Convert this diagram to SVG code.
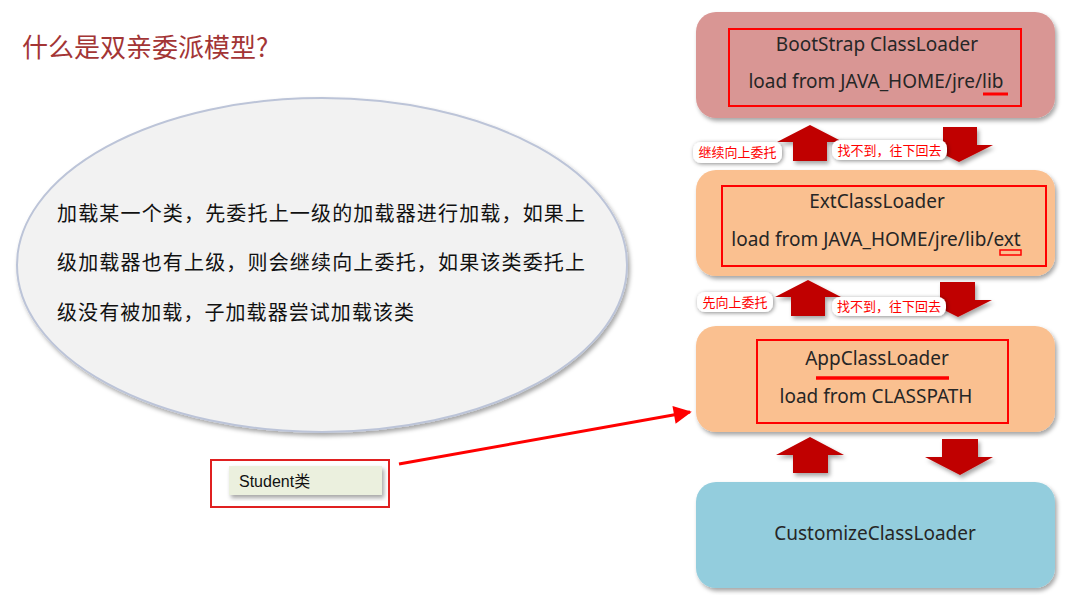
<svg xmlns="http://www.w3.org/2000/svg" width="1076" height="595" viewBox="0 0 1076 595">
<defs>
<filter id="sh" x="-10%" y="-10%" width="125%" height="130%"><feDropShadow dx="2" dy="3" stdDeviation="2" flood-color="#000" flood-opacity="0.35"/></filter>
<filter id="glow" x="-20%" y="-40%" width="140%" height="180%"><feDropShadow dx="1" dy="1" stdDeviation="2" flood-color="#000" flood-opacity="0.45"/></filter>
<marker id="ah" viewBox="0 0 10 10" refX="9" refY="5" markerWidth="8" markerHeight="6" orient="auto" markerUnits="strokeWidth"><path d="M0,0 L10,5 L0,10 z" fill="#f00"/></marker>
</defs>
<style>
.box{filter:url(#sh)}
.inner{fill:none;stroke:#f00;stroke-width:2}
.t{font-family:"Noto Sans","Open Sans",sans-serif;font-size:19px;fill:#262626;text-anchor:middle}
.cn{font-family:"Noto Sans CJK SC",sans-serif;font-size:20px;fill:#111}
.lbl{fill:#fff;filter:url(#glow)}
.lt{font-family:"Noto Sans CJK SC",sans-serif;font-size:13px;fill:#f00;text-anchor:middle}
.arr{fill:#c00000;filter:url(#sh)}
</style>
<rect width="1076" height="595" fill="#fff"/>
<text id="title" x="22" y="57" font-family="Noto Sans CJK SC,sans-serif" font-size="26" fill="#a33535">什么是双亲委派模型?</text>

<g id="ellipse">
<ellipse cx="322" cy="265" rx="305" ry="167" fill="#f2f2f2" stroke="#bcc4d8" stroke-width="2" filter="url(#sh)"/>
<text class="cn" x="57" y="221" textLength="528" lengthAdjust="spacing">加载某一个类，先委托上一级的加载器进行加载，如果上</text>
<text class="cn" x="57" y="270" textLength="528" lengthAdjust="spacing">级加载器也有上级，则会继续向上委托，如果该类委托上</text>
<text class="cn" x="57" y="320" textLength="357" lengthAdjust="spacing">级没有被加载，子加载器尝试加载该类</text>
</g>

<g id="bootstrap">
<rect class="box" x="696" y="12" width="359" height="106" rx="20" fill="#d99694"/>
<rect class="inner" x="729" y="29" width="292" height="77"/>
<text class="t" x="877" y="51">BootStrap ClassLoader</text>
<text class="t" x="876" y="88">load from JAVA_HOME/jre/lib</text>
<line x1="983" y1="94" x2="1008" y2="94" stroke="#f00" stroke-width="3"/>
</g>

<g id="ext">
<rect class="box" x="696" y="170" width="359" height="106" rx="20" fill="#fac090"/>
<rect class="inner" x="722" y="186" width="324" height="80"/>
<text class="t" x="877" y="208">ExtClassLoader</text>
<text class="t" x="876" y="246">load from JAVA_HOME/jre/lib/ext</text>
<rect x="1000" y="250" width="21" height="5" fill="none" stroke="#f00" stroke-width="1.5"/>
</g>

<g id="app">
<rect class="box" x="696" y="326" width="359" height="106" rx="20" fill="#fac090"/>
<rect class="inner" x="757" y="340" width="251" height="83"/>
<text class="t" x="877" y="365">AppClassLoader</text>
<line x1="816" y1="378" x2="949" y2="378" stroke="#f00" stroke-width="3.5"/>
<text class="t" x="876" y="403">load from CLASSPATH</text>
</g>

<g id="custom">
<rect class="box" x="696" y="482" width="359" height="106" rx="20" fill="#93cddd"/>
<text class="t" x="875" y="540">CustomizeClassLoader</text>
</g>

<g id="student">
<rect x="211" y="460" width="178" height="47" fill="none" stroke="#e02020" stroke-width="2"/>
<rect x="229" y="466" width="153" height="29" fill="#ebf0de" filter="url(#sh)"/>
<text x="239" y="487" font-family="Liberation Sans,Noto Sans CJK SC,sans-serif" font-size="16" fill="#111">Student类</text>
</g>

<g id="connectors">
<line x1="399" y1="464" x2="690" y2="412" stroke="#f00" stroke-width="3" marker-end="url(#ah)"/>
<path class="arr" d="M810,125 L843,142 L827,142 L827,161 L793,161 L793,142 L777,142 Z"/>
<path class="arr" d="M943,127 L977,127 L977,145 L993,145 L959,162 L925,145 L943,145 Z"/>
<path class="arr" d="M808,280 L841,297 L825,297 L825,316 L791,316 L791,297 L775,297 Z"/>
<path class="arr" d="M940,282 L975,282 L975,300 L992,300 L958,317 L924,300 L940,300 Z"/>
<path class="arr" d="M810,437 L844,455 L828,455 L828,473 L793,473 L793,455 L776,455 Z"/>
<path class="arr" d="M942,439 L978,439 L978,457 L993,457 L960,475 L925,457 L942,457 Z"/>
</g>

<g id="labels">
<rect class="lbl" x="693" y="142" width="89" height="21" rx="8"/>
<text class="lt" x="737.5" y="157">继续向上委托</text>
<rect class="lbl" x="832" y="140" width="115" height="20" rx="8"/>
<text class="lt" x="889.5" y="155">找不到，往下回去</text>
<rect class="lbl" x="697" y="292" width="76" height="20" rx="8"/>
<text class="lt" x="735" y="307">先向上委托</text>
<rect class="lbl" x="832" y="297" width="114" height="19" rx="8"/>
<text class="lt" x="889" y="311">找不到，往下回去</text>
</g>
</svg>
